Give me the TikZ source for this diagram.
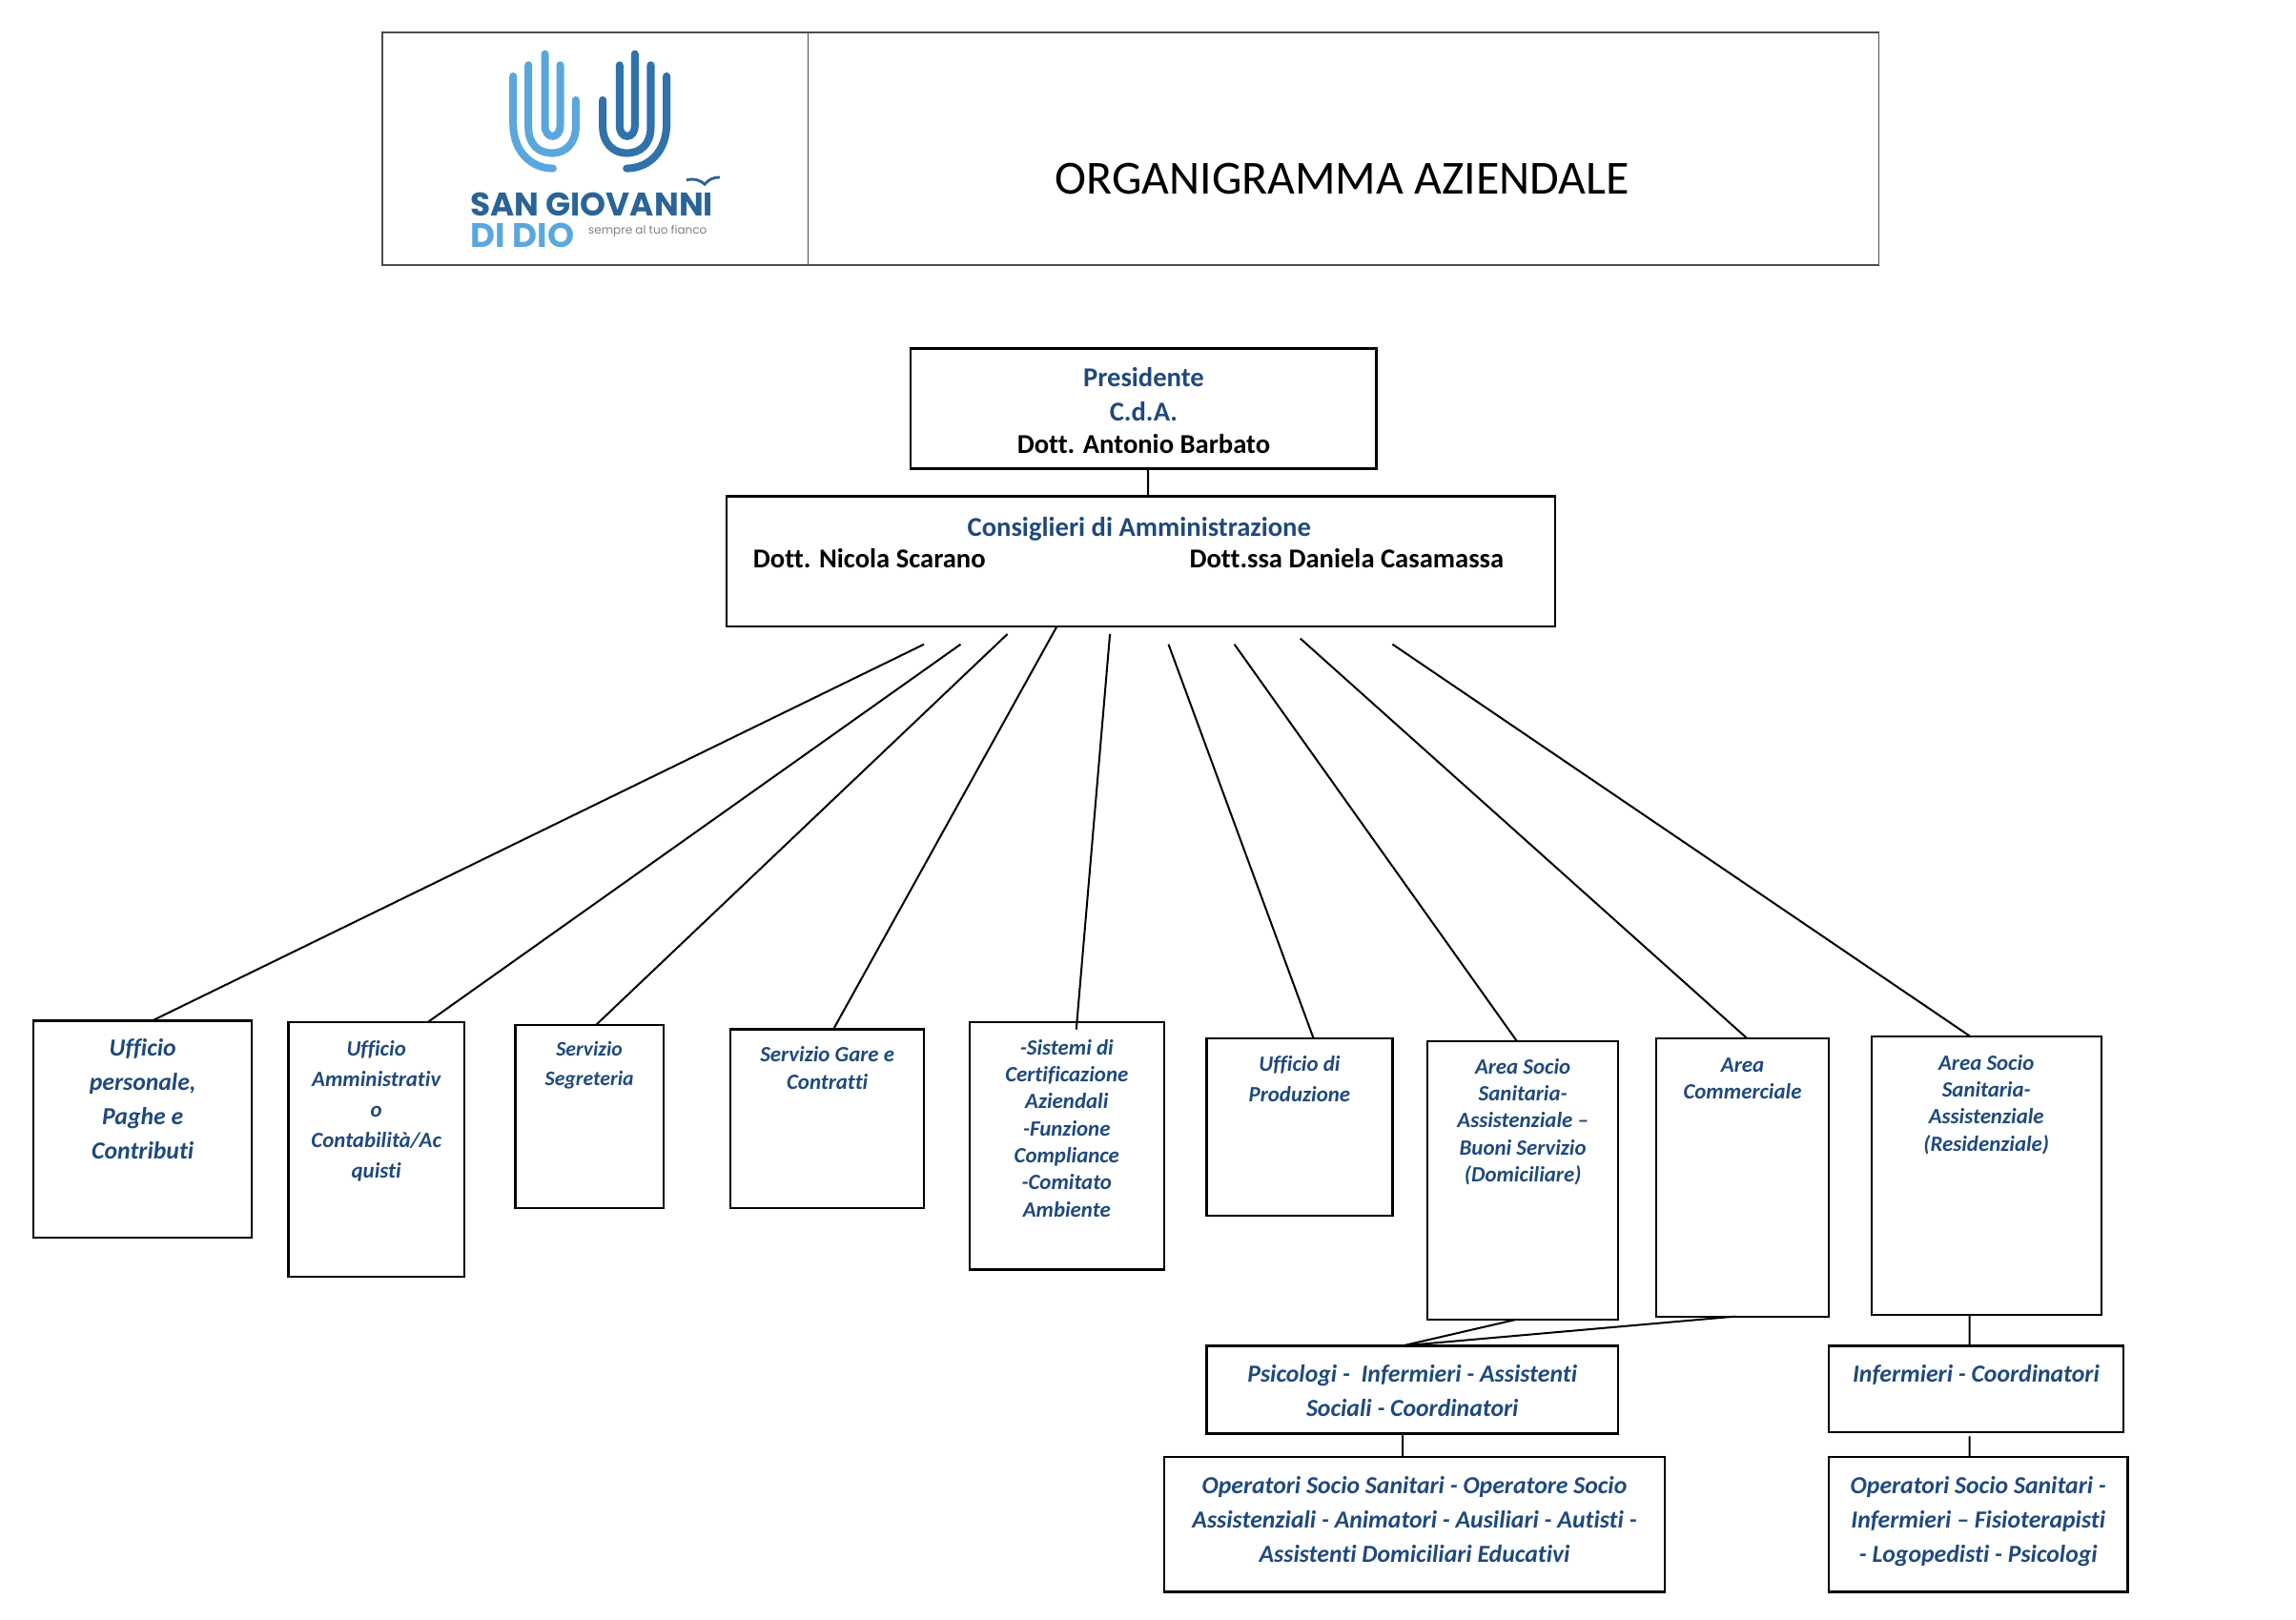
\documentclass[tikz,border=0pt]{standalone}
\usepackage{fontspec}
\usepackage{xcolor}
\setmainfont[Ligatures={TeX,NoCommon}]{Carlito}
\newfontfamily\logofont{Poppins}
\usetikzlibrary{fit}
\definecolor{navy}{HTML}{1F497D}
\definecolor{handlight}{HTML}{5AA7DE}
\definecolor{handdark}{HTML}{2F72AC}
\definecolor{logodark}{HTML}{2A6496}
\tikzset{
  box/.style={draw,line width=0.8pt,inner sep=0pt,outer sep=0pt},
  headbox/.style={draw=black!70,line width=0.5pt,inner sep=0pt,outer sep=0pt},
  conn/.style={line width=0.7pt},
  txtbig/.style={font=\fontsize{9}{12.6}\selectfont\bfseries\itshape,text=navy,align=center,inner sep=0pt,anchor=north},
  txtwide/.style={font=\fontsize{8}{11.2}\selectfont\bfseries\itshape,text=navy,align=center,inner sep=0pt,anchor=north},
  txtsmall/.style={font=\fontsize{8}{9.9}\selectfont\bfseries\itshape,text=navy,align=center,inner sep=0pt,anchor=north},
  txttiny/.style={font=\fontsize{7.6}{10.7}\selectfont\bfseries\itshape,text=navy,align=center,inner sep=0pt,anchor=north},
  txthead/.style={font=\fontsize{10}{12.6}\selectfont\bfseries,align=center,inner sep=0pt,anchor=north},
  finger/.style={line width=2.8pt,line cap=round}
}
\begin{document}
\begin{tikzpicture}[x=0.537pt,y=-0.537pt]
\useasboundingbox (0,0) rectangle (1568,1105.7);

% header
\node[headbox,fit={(261,22) (552,181)}] (logobox) {};
\node[headbox,fit={(552,22) (1283,181)}] (titlebox) {};
\node[font=\fontsize{17.4}{20}\selectfont] (title) at (916.5,122) {ORGANIGRAMMA AZIENDALE};

% logo
\begin{scope}[shift={(260.4,19.5)},scale=0.217]
\draw[finger,handlight] (415,150) -- (415,300) .. controls (415,385) and (470,440) .. (540,440);
\draw[finger,handlight] (463,115) -- (463,310) .. controls (463,365) and (495,392) .. (538,392) .. controls (580,392) and (612,360) .. (612,310) -- (612,225);
\draw[finger,handlight] (515,80) -- (515,305) .. controls (515,350) and (563,350) .. (563,305) -- (563,115);
\draw[finger,handdark] (898,150) -- (898,300) .. controls (898,385) and (843,440) .. (772,440);
\draw[finger,handdark] (848,115) -- (848,310) .. controls (848,365) and (815,392) .. (772,392) .. controls (730,392) and (697,360) .. (697,310) -- (697,225);
\draw[finger,handdark] (798,80) -- (798,305) .. controls (798,350) and (750,350) .. (750,305) -- (750,115);
\draw[line width=1pt,logodark] (960,477) .. controls (985,470) and (1005,478) .. (1018,490) .. controls (1030,475) and (1045,468) .. (1065,468);
\node[font=\logofont\fontsize{12}{14}\selectfont\bfseries,text=logodark,anchor=base west,inner sep=0pt] (logoname) at (278,590) {SAN GIOVANNI};
\node[font=\logofont\fontsize{12.5}{14}\selectfont\bfseries,text=handlight,anchor=base west,inner sep=0pt] (logodio) at (280,688) {DI DIO};
\node[font=\logofont\fontsize{4.2}{5}\selectfont,text=black!50,anchor=base west,inner sep=0pt] (logomotto) at (650,648) {sempre al tuo fianco};
\end{scope}

% top of the chart
\node[box,fit={(622,238) (940,320)}] (pres) {};
\node[txthead,text=navy] (prestxt) at (781,250.5) {Presidente\\C.d.A.};
\node[txthead] (presname) at (781,296.5) {Dott. Antonio Barbato};
\node[box,fit={(496,339) (1062,428)}] (cons) {};
\node[txthead,text=navy] (constxt) at (778,352.5) {Consiglieri di Amministrazione};
\node[txthead,anchor=north west] (nicola) at (514,374) {Dott. Nicola Scarano};
\node[txthead,anchor=north west] (daniela) at (812,374) {Dott.ssa Daniela Casamassa};

% offices
\node[box,fit={(23,697) (172,845)}] (ufpers) {};
\node[txtbig] (ufperstxt) at (97.5,709) {Ufficio\\personale,\\Paghe e\\Contributi};
\node[box,fit={(197,698) (317,872)}] (ufamm) {};
\node[txtwide] (ufammtxt) at (257,710.5) {Ufficio\\Amministrativ\\o\\Contabilità/Ac\\quisti};
\node[box,fit={(352,700) (453,825)}] (segr) {};
\node[txttiny] (segrtxt) at (402.5,711) {Servizio\\Segreteria};
\node[box,fit={(499,703) (631,825)}] (gare) {};
\node[txtsmall] (garetxt) at (565,714.5) {Servizio Gare e\\Contratti};
\node[box,fit={(662,698) (795,867)}] (cert) {};
\node[txtsmall] (certtxt) at (728.5,709.5) {-Sistemi di\\Certificazione\\Aziendali\\-Funzione\\Compliance\\-Comitato\\Ambiente};
\node[box,fit={(824,709) (951,830)}] (prod) {};
\node[txtwide] (prodtxt) at (887.5,721) {Ufficio di\\Produzione};
\node[box,fit={(975,711) (1105,901)}] (domi) {};
\node[txtsmall] (domitxt) at (1040,722.5) {Area Socio\\Sanitaria-\\Assistenziale --\\Buoni Servizio\\(Domiciliare)};
\node[box,fit={(1131,709) (1249,899)}] (comm) {};
\node[txtsmall] (commtxt) at (1190,722) {Area\\Commerciale};
\node[box,fit={(1278,708) (1435,898)}] (resi) {};
\node[txtsmall] (resitxt) at (1356.5,720) {Area Socio\\Sanitaria-\\Assistenziale\\(Residenziale)};

% staff
\node[box,fit={(824,919) (1105,979)}] (psico) {};
\node[txtbig] (psicotxt) at (964.5,932) {Psicologi -\ \ Infermieri - Assistenti\\Sociali - Coordinatori};
\node[box,fit={(1249,919) (1450,978)}] (infer) {};
\node[txtbig] (infertxt) at (1349.5,932) {Infermieri - Coordinatori};
\node[box,fit={(795,995) (1137,1087)}] (oper) {};
\node[txtbig] (opertxt) at (966,1008) {Operatori Socio Sanitari - Operatore Socio\\Assistenziali - Animatori - Ausiliari - Autisti -\\Assistenti Domiciliari Educativi};
\node[box,fit={(1249,995) (1453,1087)}] (fisio) {};
\node[txtbig] (fisiotxt) at (1351,1008) {Operatori Socio Sanitari -\\Infermieri -- Fisioterapisti\\- Logopedisti - Psicologi};

% free ends under the board
\coordinate (t1) at (631,440);
\coordinate (t2) at (656,440);
\coordinate (t3) at (688,433);
\coordinate (t5) at (758,433);
\coordinate (t6) at (798,440);
\coordinate (t7) at (843,440);
\coordinate (t8) at (888,436);
\coordinate (t9) at (951,440);

\draw[conn] ([xshift=1.6pt]pres.south) -- ([xshift=2.7pt]cons.north);
\draw[conn] (t1) -- ([xshift=3.5pt]ufpers.north);
\draw[conn] (t2) -- ([xshift=18.9pt]ufamm.north);
\draw[conn] (t3) -- ([xshift=2.4pt]segr.north);
\draw[conn] ([xshift=-30.8pt]cons.south) -- ([xshift=2.2pt]gare.north);
\draw[conn] (t5) -- ([xshift=3.5pt,yshift=-2.7pt]cert.north);
\draw[conn] (t6) -- ([xshift=5.1pt]prod.north);
\draw[conn] (t7) -- ([xshift=-2.2pt]domi.north);
\draw[conn] (t8) -- ([xshift=1.6pt]comm.north);
\draw[conn] (t9) -- ([xshift=-5.7pt]resi.north);
\draw[conn] ([xshift=-2.2pt]domi.south) -- ([xshift=-3.5pt]psico.north);
\draw[conn] ([xshift=-2.7pt]comm.south) -- ([xshift=-3.5pt]psico.north);
\draw[conn] ([xshift=-3.5pt]psico.south) -- ([xshift=-4.3pt]oper.north);
\draw[conn] ([xshift=-6.2pt]resi.south) -- ([xshift=-2.4pt]infer.north);
\draw[conn] ([xshift=-2.4pt,yshift=-1.5pt]infer.south) -- ([xshift=-3.2pt]fisio.north);
\end{tikzpicture}
\end{document}
